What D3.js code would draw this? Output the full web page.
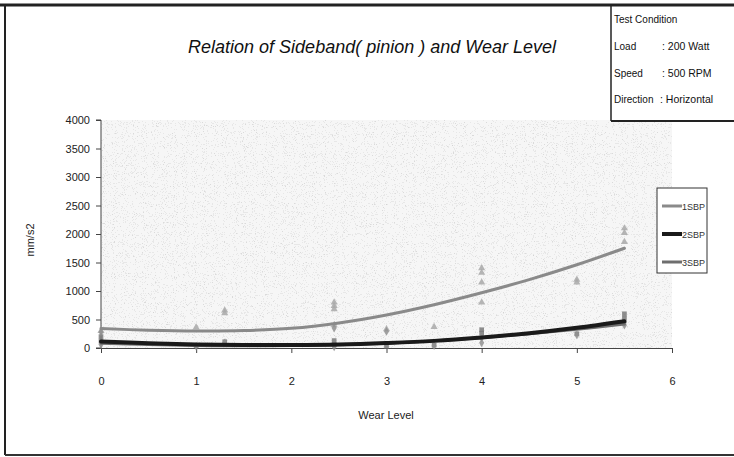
<!DOCTYPE html>
<html>
<head>
<meta charset="utf-8">
<script src="https://cdn.jsdelivr.net/npm/d3@7"></script>
<style>
  html, body { margin: 0; padding: 0; background: #fff; }
  svg { display: block; font-family: "Liberation Sans", Arial, sans-serif; }
</style>
</head>
<body>
<svg id="chart" width="734" height="457"></svg>
<script>
// Measured points per series (wear level, amplitude in mm/s2)
const sbp1X = [0, 1, 1.3, 1.3, 2.45, 2.45, 2.45, 2.45, 3, 3.5, 4, 4, 4, 4, 5, 5, 5.5, 5.5, 5.5];
const sbp1Y = [300, 360, 660, 610, 800, 740, 680, 400, 330, 370, 1400, 1320, 1150, 800, 1200, 1150, 2100, 2020, 1860];
const sbp2X = [0, 0, 1, 1.3, 2.45, 2.45, 3, 3.5, 4, 4, 5, 5.5, 5.5];
const sbp2Y = [200, 120, 40, 110, 130, 60, 30, 50, 320, 260, 250, 600, 520];
const sbp3X = [0, 0, 1, 1.3, 2.45, 2.45, 3, 3.5, 4, 4, 5, 5.5, 5.5];
const sbp3Y = [280, 60, 30, 90, 350, 20, 290, 40, 180, 90, 230, 450, 400];

// Polynomial trend curves for each series
const trendX  = [0, 0.5, 1, 1.5, 2, 2.5, 3, 3.5, 4, 4.5, 5, 5.5];
const trend1 = [340, 312, 298, 305, 345, 440, 580, 760, 970, 1200, 1460, 1750];
const trend2 = [115, 85, 62, 52, 52, 62, 88, 125, 185, 260, 355, 470];
const trend3 = [85, 62, 45, 38, 42, 56, 85, 125, 180, 250, 330, 420];

const seriesNames = ["1SBP", "2SBP", "3SBP"];
const xTicks = [0, 1, 2, 3, 4, 5, 6];
const yTicks = [0, 500, 1000, 1500, 2000, 2500, 3000, 3500, 4000];

const conditionLabels = ["Load", "Speed", "Direction"];
const conditionValues = [": 200 Watt", ": 500 RPM", ": Horizontal"];

const svg = d3.select("#chart");

const plot = { left: 101, right: 672, top: 120, bottom: 348 };
const x = d3.scaleLinear().domain([0, 6]).range([plot.left, plot.right]);
const y = d3.scaleLinear().domain([0, 4000]).range([plot.bottom, plot.top]);

// Stippled plot background
const defs = svg.append("defs");
const f = defs.append("filter").attr("id", "stipple")
  .attr("x", 0).attr("y", 0).attr("width", 1).attr("height", 1);
f.append("feTurbulence").attr("type", "fractalNoise").attr("baseFrequency", 0.9)
  .attr("numOctaves", 2).attr("seed", 7).attr("result", "n");
f.append("feColorMatrix").attr("in", "n").attr("type", "matrix")
  .attr("values", "0 0 0 0 0.55  0 0 0 0 0.55  0 0 0 0 0.55  1 0 0 0 0");
const ct = f.append("feComponentTransfer");
ct.append("feFuncA").attr("type", "discrete").attr("tableValues", "0 0 0 0 0 0.3 0.55 0.7");

svg.append("rect")
  .attr("x", plot.left).attr("y", plot.top)
  .attr("width", plot.right - plot.left).attr("height", plot.bottom - plot.top)
  .attr("fill", "#f6f6f6");
svg.append("rect")
  .attr("x", plot.left).attr("y", plot.top)
  .attr("width", plot.right - plot.left).attr("height", plot.bottom - plot.top)
  .attr("fill", "#000").attr("filter", "url(#stipple)");

// Outer frame
svg.append("line").attr("x1", 0).attr("x2", 734).attr("y1", 5).attr("y2", 5)
  .attr("stroke", "#222").attr("stroke-width", 3);
svg.append("line").attr("x1", 5).attr("x2", 5).attr("y1", 5).attr("y2", 455)
  .attr("stroke", "#222").attr("stroke-width", 2);
svg.append("line").attr("x1", 5).attr("x2", 734).attr("y1", 455).attr("y2", 455)
  .attr("stroke", "#333").attr("stroke-width", 2);

// Title
svg.append("text")
  .attr("x", 372).attr("y", 53)
  .attr("text-anchor", "middle")
  .attr("font-size", 18).attr("font-style", "italic")
  .attr("fill", "#111")
  .text("Relation of Sideband( pinion ) and Wear Level");

// Test condition box
svg.append("line").attr("x1", 611).attr("x2", 611).attr("y1", 5).attr("y2", 121)
  .attr("stroke", "#222").attr("stroke-width", 1.5);
svg.append("line").attr("x1", 611).attr("x2", 734).attr("y1", 121).attr("y2", 121)
  .attr("stroke", "#222").attr("stroke-width", 2);
svg.append("text").attr("x", 614).attr("y", 23).attr("font-size", 10).attr("fill", "#111")
  .text("Test Condition");
conditionLabels.forEach((lab, i) => {
  const yy = 50 + i * 26.5;
  svg.append("text").attr("x", 614).attr("y", yy).attr("font-size", 10).attr("fill", "#111").text(lab);
  svg.append("text").attr("x", i === 2 ? 660 : 662).attr("y", yy).attr("font-size", 10.5).attr("fill", "#111")
    .text(conditionValues[i]);
});

// Axes
const yAxis = d3.axisLeft(y).tickValues(yTicks).tickSize(5).tickPadding(6).tickFormat(d3.format("d"));
const gy = svg.append("g").attr("transform", `translate(${plot.left},0)`).call(yAxis);
const xAxis = d3.axisBottom(x).tickValues(xTicks).tickSize(5).tickPadding(24).tickFormat(d3.format("d"));
const gx = svg.append("g").attr("transform", `translate(0,${plot.bottom})`).call(xAxis);
[gx, gy].forEach(g => {
  g.select(".domain").attr("stroke", "#444").attr("stroke-width", 1);
  g.selectAll(".tick line").attr("stroke", "#444");
  g.selectAll(".tick text").attr("font-size", 11).attr("fill", "#222")
    .attr("font-family", "'Liberation Sans', Arial, sans-serif");
});
gy.select(".domain").attr("d", `M-5,${plot.top}H0V${plot.bottom}H-5`);

svg.append("text").attr("x", 386).attr("y", 419).attr("text-anchor", "middle")
  .attr("font-size", 11).attr("fill", "#222").text("Wear Level");
svg.append("text")
  .attr("transform", `translate(34,240) rotate(-90)`)
  .attr("text-anchor", "middle").attr("font-size", 11).attr("fill", "#222").text("mm/s2");

// Series styles
const colors = ["#8a8a8a", "#1a1a1a", "#6e6e6e"];
const widths = [3, 4, 3];
const symbols = [d3.symbolTriangle, d3.symbolSquare, d3.symbolDiamond];
const markerFill = ["#a8a8a8", "#7a7a7a", "#909090"];
const pts = [
  sbp1X.map((d, i) => [d, sbp1Y[i]]),
  sbp2X.map((d, i) => [d, sbp2Y[i]]),
  sbp3X.map((d, i) => [d, sbp3Y[i]])
];
const trends = [trend1, trend2, trend3];

// Scatter markers
pts.forEach((arr, s) => {
  svg.append("g").selectAll("path").data(arr).join("path")
    .attr("transform", d => `translate(${x(d[0])},${y(d[1])})`)
    .attr("d", d3.symbol().type(symbols[s]).size(22))
    .attr("fill", markerFill[s]).attr("opacity", 0.85);
});

// Trend curves
const line = d3.line().x(d => x(d[0])).y(d => y(d[1])).curve(d3.curveCatmullRom);
[2, 0, 1].forEach(s => {
  const data = trendX.map((v, i) => [v, trends[s][i]]);
  svg.append("path").datum(data).attr("d", line)
    .attr("fill", "none").attr("stroke", colors[s]).attr("stroke-width", widths[s])
    .attr("stroke-linecap", "round");
});

// Legend
const lg = svg.append("g").attr("transform", "translate(657,188)");
lg.append("rect").attr("width", 50).attr("height", 85)
  .attr("fill", "#fff").attr("stroke", "#333").attr("stroke-width", 1);
seriesNames.forEach((n, i) => {
  const yy = 18 + i * 28;
  lg.append("line").attr("x1", 5).attr("x2", 25).attr("y1", yy).attr("y2", yy)
    .attr("stroke", colors[i]).attr("stroke-width", widths[i]);
  lg.append("text").attr("x", 25).attr("y", yy + 3.5).attr("font-size", 9).attr("fill", "#333").text(n);
});
</script>
</body>
</html>
